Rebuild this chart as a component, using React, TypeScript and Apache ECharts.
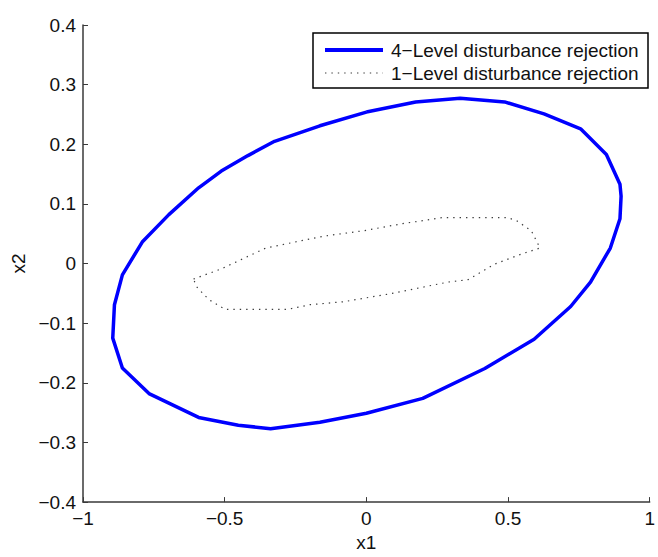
import React, { useEffect, useRef } from "react";
import * as echarts from "echarts";

// 4-level disturbance rejection region (outer ellipse), traced clockwise
const outerX = [0, 0.174, 0.331, 0.488, 0.627, 0.756, 0.847, 0.895, 0.899, 0.895, 0.861, 0.791, 0.721, 0.592, 0.418, 0.199, 0, -0.164, -0.338, -0.452, -0.592, -0.767, -0.861, -0.895, -0.889, -0.861, -0.791, -0.697, -0.592, -0.512, -0.418, -0.324, -0.164, 0];
const outerY = [0.254, 0.271, 0.277, 0.271, 0.251, 0.226, 0.183, 0.133, 0.113, 0.075, 0.026, -0.031, -0.072, -0.127, -0.176, -0.226, -0.251, -0.266, -0.277, -0.271, -0.258, -0.218, -0.175, -0.125, -0.069, -0.019, 0.036, 0.082, 0.127, 0.155, 0.181, 0.205, 0.231, 0.254];

// 1-level disturbance rejection region (inner contour)
const innerX = [-0.61, -0.512, -0.355, -0.15, -0.01, 0.129, 0.268, 0.498, 0.53, 0.582, 0.613, 0.547, 0.453, 0.359, 0.289, 0.08, -0.08, -0.199, -0.279, -0.498, -0.557, -0.599, -0.61];
const innerY = [-0.026, -0.009, 0.026, 0.046, 0.055, 0.067, 0.077, 0.077, 0.072, 0.055, 0.026, 0.016, -0.001, -0.027, -0.031, -0.051, -0.064, -0.069, -0.077, -0.077, -0.06, -0.039, -0.026];

const seriesNames = ["4\u2212Level disturbance rejection", "1\u2212Level disturbance rejection"];
const xTicks = [-1, -0.5, 0, 0.5, 1];
const yTicks = [-0.4, -0.3, -0.2, -0.1, 0, 0.1, 0.2, 0.3, 0.4];

const BLUE = "#0000ff";
const GREY = "#3c3c3c";
const DOTS = [1.4, 5];

const zip = (xs: number[], ys: number[]) => xs.map((x, i) => [x, ys[i]]);
const fmt = (v: number) => {
  const r = Math.round(v * 10) / 10;
  const s = String(Math.abs(r));
  return r < 0 ? "\u2212" + s : s;
};

const FONT = "'Liberation Sans', Arial, Helvetica, sans-serif";

export default function App() {
  const ref = useRef<HTMLDivElement>(null);

  useEffect(() => {
    if (!ref.current) return;
    const chart = echarts.init(ref.current, undefined, { renderer: "svg" });
    const axisLine = { show: true, onZero: false, lineStyle: { color: "#3a3a3a", width: 1.5 } };
    const axisTick = { show: true, inside: true, length: 5, lineStyle: { color: "#3a3a3a", width: 1 } };
    const axisLabel = { color: "#111", fontSize: 19, fontFamily: FONT, formatter: (v: number) => fmt(v) };
    const nameStyle = { color: "#111", fontSize: 19, fontFamily: FONT };

    // legend box drawn as graphic elements
    const lx = 313, ly = 33, lw = 335, lh = 55;
    const rows = [50, 73];
    const legend = [
      { type: "rect", shape: { x: lx, y: ly, width: lw, height: lh }, style: { fill: "#fff", stroke: "#000", lineWidth: 1.5 }, z: 10 },
      { type: "line", shape: { x1: 325, y1: rows[0], x2: 383, y2: rows[0] }, style: { stroke: BLUE, lineWidth: 4 }, z: 11 },
      { type: "line", shape: { x1: 325, y1: rows[1], x2: 383, y2: rows[1] }, style: { stroke: GREY, lineWidth: 1.2, lineDash: DOTS }, z: 11 },
      ...seriesNames.map((name, i) => ({
        type: "text",
        x: 391,
        y: rows[i],
        style: { text: name, fill: "#111", fontSize: 19, fontFamily: FONT, verticalAlign: "middle", align: "left" },
        z: 11,
      })),
    ];

    chart.setOption({
      animation: false,
      backgroundColor: "#fff",
      grid: { left: 83, right: 1, top: 25, bottom: 49, containLabel: false },
      xAxis: {
        type: "value",
        min: xTicks[0],
        max: xTicks[xTicks.length - 1],
        interval: 0.5,
        name: "x1",
        nameLocation: "middle",
        nameGap: 30,
        nameTextStyle: nameStyle,
        axisLine,
        axisTick,
        axisLabel: { ...axisLabel, margin: 7 },
        splitLine: { show: false },
      },
      yAxis: {
        type: "value",
        min: yTicks[0],
        max: yTicks[yTicks.length - 1],
        interval: 0.1,
        name: "x2",
        nameLocation: "middle",
        nameGap: 55,
        nameTextStyle: nameStyle,
        axisLine,
        axisTick,
        axisLabel: { ...axisLabel, margin: 7 },
        splitLine: { show: false },
      },
      graphic: legend,
      series: [
        {
          name: seriesNames[0],
          type: "line",
          data: zip(outerX, outerY),
          symbol: "none",
          smooth: false,
          lineStyle: { color: BLUE, width: 3.5, join: "round" },
          itemStyle: { color: BLUE },
        },
        {
          name: seriesNames[1],
          type: "line",
          data: zip(innerX, innerY),
          symbol: "none",
          smooth: false,
          lineStyle: { color: GREY, width: 1.2, type: DOTS },
          itemStyle: { color: GREY },
        },
      ],
    });
    return () => chart.dispose();
  }, []);

  return (
    <div
      ref={ref}
      style={{ position: "fixed", left: 0, top: 0, width: 658, height: 557, background: "#fff" }}
    />
  );
}
